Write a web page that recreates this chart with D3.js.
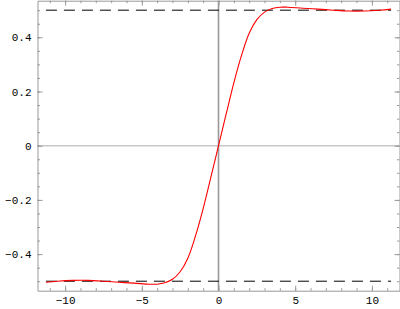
<!DOCTYPE html>
<html>
<head>
<meta charset="utf-8">
<script src="https://cdn.jsdelivr.net/npm/d3@7"></script>
<style>
	body { margin: 0; background: #fff; }
	svg { display: block; }
</style>
</head>
<body>
<script>
// values (odd curve, levels at +-0.5)
var xValues = [-11.25, -10.5, -9.5, -8.5, -7.5, -6.5, -5.5, -4.5, -4, -3.5, -3, -2.5, -2, -1.5, -1, -0.5,
	0, 0.5, 1, 1.5, 2, 2.5, 3, 3.5, 4, 4.5, 5.5, 6.5, 7.5, 8.5, 9.5, 10.5, 11.25];
var yValues = [-0.504, -0.500, -0.497, -0.497, -0.500, -0.504, -0.507, -0.511, -0.511, -0.506, -0.493, -0.465, -0.415, -0.333, -0.232, -0.117,
	0, 0.117, 0.232, 0.333, 0.415, 0.465, 0.493, 0.506, 0.511, 0.511, 0.507, 0.504, 0.500, 0.497, 0.497, 0.500, 0.504];
var levels = [-0.5, 0.5];
var xMajorTicks = [-10, -5, 0, 5, 10];
var yMajorTicks = [-0.4, -0.2, 0, 0.2, 0.4];

class StepPlot {
	constructor(options = {}) {
		Object.assign(this, {
			width: 400,
			height: 309,
			left: 37.5,
			right: 399.5,
			top: 0.7,
			bottom: 290.7,
			frameColor: '#999',
			font: '"Liberation Mono", "DejaVu Sans Mono", monospace'
		}, options);

		this.x = d3.scaleLinear().domain([-11.8, 11.8]).range([this.left, this.right]);
		this.y = d3.scaleLinear().domain([-0.535, 0.535]).range([this.bottom, this.top]);

		this.curveData = xValues.map(function(v, i) { return {x: v, y: yValues[i]}; });
	}

	draw() {
		var x = this.x, y = this.y;

		this.svg = d3.select('body').append('svg')
			.attr('width', this.width)
			.attr('height', this.height);

		// zero lines
		this.svg.append('line')
			.attr('x1', this.left).attr('x2', this.right)
			.attr('y1', y(0)).attr('y2', y(0))
			.attr('stroke', '#c8c8c8').attr('stroke-width', 1.6);
		this.svg.append('line')
			.attr('x1', x(0)).attr('x2', x(0))
			.attr('y1', this.top).attr('y2', this.bottom)
			.attr('stroke', '#999').attr('stroke-width', 1.6);

		// dashed asymptotes
		this.svg.selectAll('line.level')
			.data(levels)
			.enter()
			.append('line')
			.attr('class', 'level')
			.attr('x1', x(-11.25)).attr('x2', x(11.25))
			.attr('y1', function(d) { return y(d); })
			.attr('y2', function(d) { return y(d); })
			.attr('stroke', '#000')
			.attr('stroke-width', 1)
			.attr('stroke-dasharray', '11,7');

		var line = d3.line()
			.x(function(d) { return x(d.x); })
			.y(function(d) { return y(d.y); })
			.curve(d3.curveCatmullRom);

		this.svg.append('path')
			.datum(this.curveData)
			.attr('d', line)
			.attr('fill', 'none')
			.attr('stroke', '#f00')
			.attr('stroke-width', 1.1);

		this.drawFrame();
	}

	drawFrame() {
		var x = this.x, y = this.y;
		var fmtY = function(d) { return d === 0 ? '0' : d3.format('.1f')(d); };
		var xMinor = d3.range(-11, 12);
		var yMinor = d3.range(-10, 11).map(function(i) { return i * 0.05; });

		var sides = [
			{axis: d3.axisBottom(x), at: [0, this.bottom], major: xMajorTicks, minor: xMinor, fmt: d3.format('d'), labels: true},
			{axis: d3.axisTop(x), at: [0, this.top], major: xMajorTicks, minor: xMinor, labels: false},
			{axis: d3.axisLeft(y), at: [this.left, 0], major: yMajorTicks, minor: yMinor, fmt: fmtY, labels: true},
			{axis: d3.axisRight(y), at: [this.right, 0], major: yMajorTicks, minor: yMinor, labels: false}
		];

		var self = this;
		sides.forEach(function(s) {
			var minorAxis = s.axis.scale().copy();
			var gMinor = self.svg.append('g')
				.attr('transform', 'translate(' + s.at[0] + ',' + s.at[1] + ')')
				.call(s.axis.tickValues(s.minor).tickSizeInner(-2.5).tickSizeOuter(0).tickFormat(''));
			gMinor.select('.domain').attr('stroke', self.frameColor);
			gMinor.selectAll('.tick line').attr('stroke', self.frameColor);

			var gMajor = self.svg.append('g')
				.attr('transform', 'translate(' + s.at[0] + ',' + s.at[1] + ')')
				.call(s.axis.tickValues(s.major).tickSizeInner(-5).tickSizeOuter(0)
					.tickPadding(6).tickFormat(s.labels ? s.fmt : ''));
			gMajor.select('.domain').remove();
			gMajor.selectAll('.tick line').attr('stroke', self.frameColor);
			gMajor.selectAll('text')
				.attr('fill', '#000')
				.style('font-family', self.font)
				.style('font-size', '11px');
		});
	}
}

var plot = new StepPlot();
plot.draw();
</script>
</body>
</html>
